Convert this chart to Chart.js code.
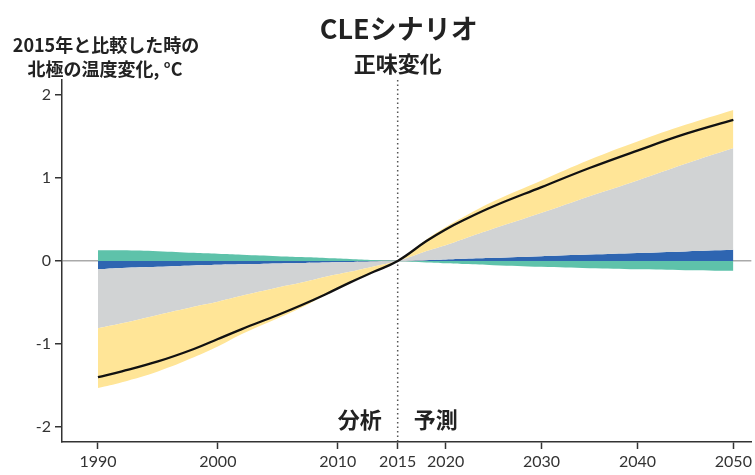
<!DOCTYPE html>
<html>
<head>
<meta charset="utf-8">
<script src="https://cdn.jsdelivr.net/npm/chart.js@4.4.1/dist/chart.umd.min.js"></script>
<style>
  body { margin: 0; background: #fff; }
</style>
</head>
<body>
<canvas id="chart" width="755" height="475"></canvas>
<script>
// years of the data points
var YEARS = [1990, 1992, 1995, 1998, 2000, 2002, 2005, 2007, 2009, 2011, 2013, 2015,
             2018, 2020, 2022, 2025, 2030, 2035, 2040, 2045, 2050];

// net change (black line)
var NET = [-1.40, -1.33, -1.21, -1.06, -0.94, -0.82, -0.65, -0.53, -0.40, -0.26, -0.13, 0,
           0.24, 0.38, 0.50, 0.66, 0.89, 1.12, 1.33, 1.53, 1.70];
// outer edges of the bands
var YELLOW_EDGE = [-1.53, -1.46, -1.33, -1.16, -1.03, -0.88, -0.69, -0.56, -0.41, -0.265, -0.132, 0,
                   0.26, 0.41, 0.54, 0.72, 0.97, 1.22, 1.44, 1.64, 1.82];
var GRAY_EDGE = [-0.81, -0.75, -0.65, -0.55, -0.49, -0.42, -0.32, -0.26, -0.19, -0.13, -0.065, 0,
                 0.12, 0.19, 0.27, 0.39, 0.58, 0.78, 0.97, 1.17, 1.36];
var BLUE_EDGE = [-0.10, -0.085, -0.07, -0.053, -0.046, -0.04, -0.03, -0.024, -0.018, -0.012, -0.006, 0,
                 0.01, 0.018, 0.026, 0.038, 0.058, 0.077, 0.096, 0.115, 0.134];
var GREEN_EDGE = [0.13, 0.128, 0.118, 0.098, 0.086, 0.075, 0.058, 0.047, 0.036, 0.025, 0.012, 0,
                  -0.018, -0.028, -0.037, -0.05, -0.07, -0.087, -0.10, -0.11, -0.118];

var X_TICKS = [1990, 2000, 2010, 2015, 2020, 2030, 2040, 2050];
var Y_TICKS = [-2, -1, 0, 1, 2];

var SPLIT_YEAR = 2015;
var FONT_CJK = '"Noto Sans CJK JP", sans-serif';

// the axis is compressed after 2015
function xPos(year) {
    return year <= SPLIT_YEAR ? year : SPLIT_YEAR + (year - SPLIT_YEAR) * 0.8;
}

function toPoints(values) {
    return YEARS.map(function (yr, i) {
        return { x: xPos(yr), y: values[i] };
    });
}

function band(values, color, fill) {
    return {
        data: toPoints(values),
        backgroundColor: color,
        borderWidth: 0,
        pointRadius: 0,
        fill: fill,
        tension: 0.4,
        order: 1
    };
}

//testi e linea tratteggiata
var annotations = {
    id: 'annotations',
    beforeDatasetsDraw: function (chart) {
        var ctx = chart.ctx;
        var x = chart.scales.x.getPixelForValue(xPos(SPLIT_YEAR));
        ctx.save();
        ctx.strokeStyle = '#555';
        ctx.lineWidth = 1.5;
        ctx.setLineDash([1.5, 3]);
        ctx.beginPath();
        ctx.moveTo(x, chart.chartArea.top);
        ctx.lineTo(x, chart.chartArea.bottom);
        ctx.stroke();
        ctx.restore();
    },
    afterDraw: function (chart) {
        var ctx = chart.ctx;
        var x = chart.scales.x.getPixelForValue(xPos(SPLIT_YEAR));
        ctx.save();
        ctx.fillStyle = '#222';
        ctx.textBaseline = 'middle';
        ctx.textAlign = 'center';
        ctx.font = 'bold 27px ' + FONT_CJK;
        ctx.fillText('CLEシナリオ', x + 1, 29);
        ctx.font = 'bold 22px ' + FONT_CJK;
        ctx.fillText('正味変化', x, 64);
        ctx.font = 'bold 18px ' + FONT_CJK;
        ctx.fillText('2015年と比較した時の', 106, 45);
        ctx.fillText('北極の温度変化, °C', 105, 69);
        ctx.font = 'bold 22px ' + FONT_CJK;
        ctx.textAlign = 'right';
        ctx.fillText('分析', x - 16, 420);
        ctx.textAlign = 'left';
        ctx.fillText('予測', x + 16, 420);
        ctx.restore();
    }
};

var myChart = new Chart(document.getElementById('chart'), {
    type: 'line',
    data: {
        datasets: [
            {
                data: toPoints(NET),
                borderColor: '#111',
                borderWidth: 2.3,
                pointRadius: 0,
                fill: false,
                tension: 0.4,
                order: 0
            },
            band(YELLOW_EDGE, '#ffe597', '+1'),
            band(GRAY_EDGE, '#d1d3d4', '+1'),
            band(BLUE_EDGE, '#2e65b1', 'origin'),
            band(GREEN_EDGE, '#5ec2aa', 'origin')
        ]
    },
    options: {
        responsive: false,
        animation: false,
        layout: { padding: { top: 80, right: 3, left: 0, bottom: 0 } },
        plugins: {
            legend: { display: false },
            tooltip: { enabled: false }
        },
        scales: {
            x: {
                type: 'linear',
                min: 1987,
                max: 2044.5,
                afterFit: function (scale) { scale.height = 33; },
                afterBuildTicks: function (scale) {
                    scale.ticks = X_TICKS.map(function (yr) { return { value: xPos(yr) }; });
                },
                border: { color: '#333', width: 1.5 },
                grid: { drawOnChartArea: false, tickLength: 7, tickColor: '#333', tickWidth: 1.5 },
                ticks: {
                    autoSkip: false,
                    maxRotation: 0,
                    padding: 3,
                    color: '#333',
                    font: { family: 'Lato', size: 16 },
                    callback: function (v, i) { return String(X_TICKS[i]); }
                }
            },
            y: {
                min: -2.18,
                max: 2.18,
                afterFit: function (scale) { scale.width = 62; },
                afterBuildTicks: function (scale) {
                    scale.ticks = Y_TICKS.map(function (v) { return { value: v }; });
                },
                border: { color: '#333', width: 1.5 },
                grid: {
                    drawOnChartArea: true,
                    color: function (c) { return c.tick && c.tick.value === 0 ? '#aaa' : 'rgba(0,0,0,0)'; },
                    lineWidth: 1.5,
                    tickLength: 7,
                    tickColor: '#333',
                    tickWidth: 1.5
                },
                ticks: {
                    padding: 4,
                    color: '#333',
                    font: { family: 'Lato', size: 16 },
                    callback: function (v) { return String(v); }
                }
            }
        }
    },
    plugins: [annotations]
});
</script>
</body>
</html>
